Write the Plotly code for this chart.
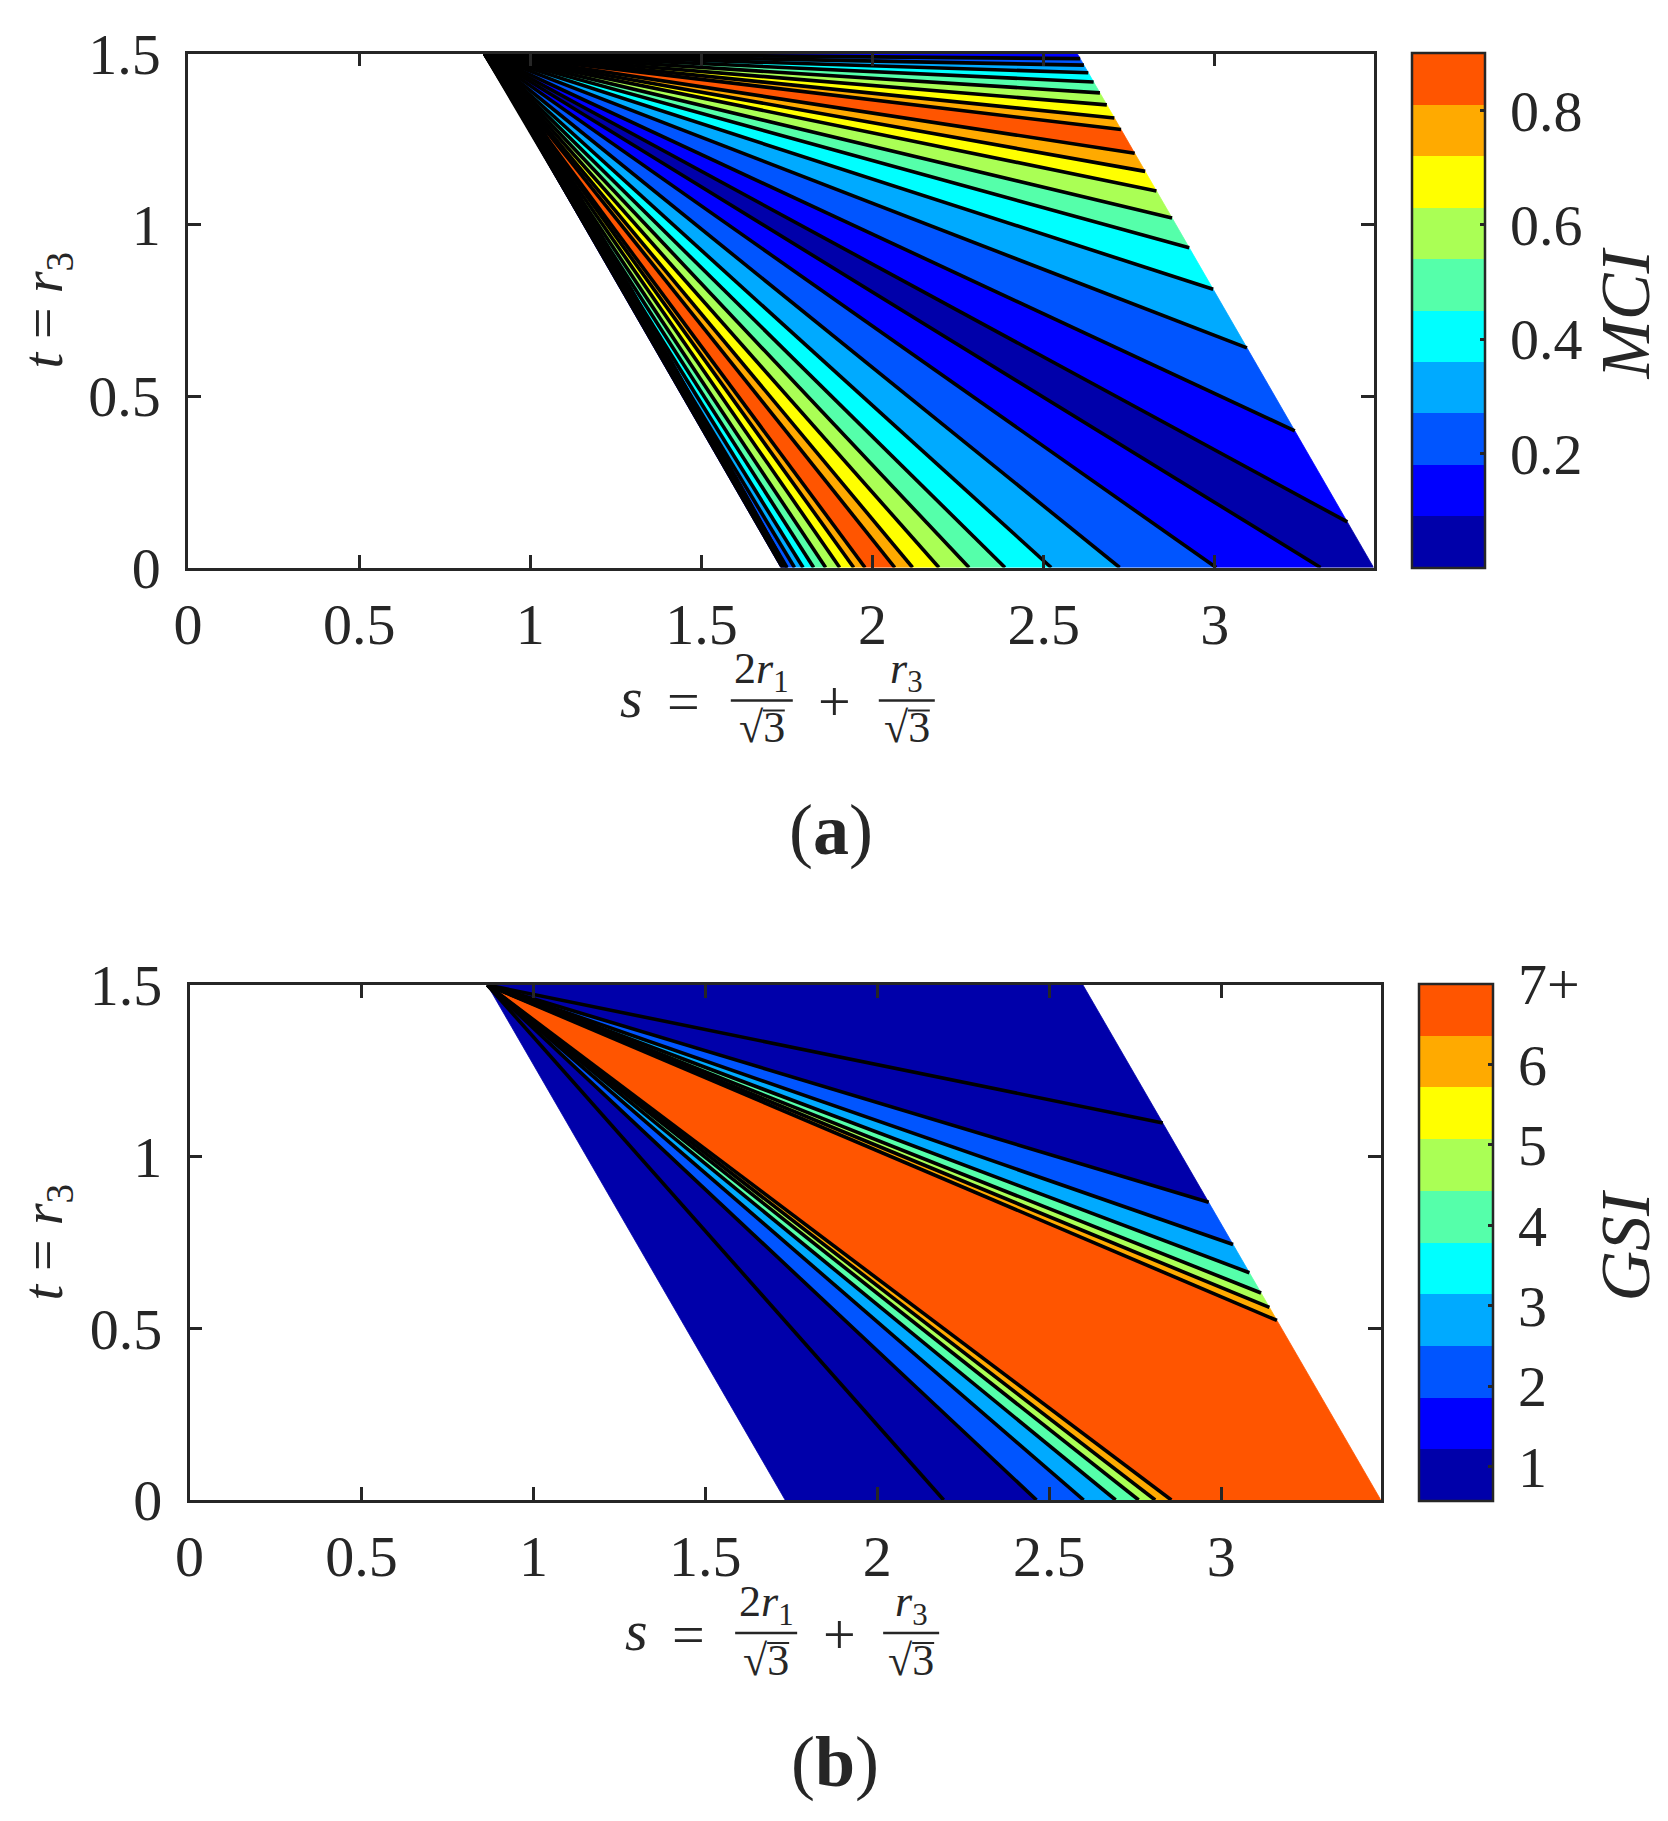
import math
import plotly.graph_objects as go

W, H = 1668, 1821
OFF = 8            # the page body adds an 8 px margin around the figure
FONT = "Liberation Serif, Times New Roman, Times, serif"
INK = "#262626"

SQ3 = math.sqrt(3.0)
S_MAX = 2 * SQ3          # right end of the s axis
T_MAX = 1.5              # top of the t axis

# ---------------------------------------------------------------- data
# 10-step jet palette used by both colour bars (bottom -> top)
jet_colors = ["#0000AA", "#0000FF", "#0055FF", "#00AAFF", "#00FFFF",
              "#55FFAA", "#AAFF55", "#FFFF00", "#FFAA00", "#FF5500"]

# Panel (a) MCI: contour lines are rays from the top-left corner of the domain.
# s where each line meets the bottom edge (t = 0), left to right
mci_bottom_s = [1.750, 1.772, 1.797, 1.828, 1.863, 1.904, 1.945, 1.978,
                2.065, 2.117, 2.194, 2.282, 2.387, 2.522, 2.722, 3.004, 3.309]
# t where each line meets the slanted right edge, bottom to top
mci_right_t = [0.133, 0.399, 0.641, 0.812, 0.933, 1.020, 1.099, 1.156,
               1.209, 1.278, 1.312, 1.350, 1.385, 1.417, 1.444, 1.466, 1.485]
# colour band (index into jet_colors) of each wedge, from left edge to top edge
mci_band_level = [1, 2, 3, 4, 5, 6, 7, 8, 9, 8, 7, 6, 5, 4, 3, 2, 1, 0,
                  1, 2, 3, 4, 5, 6, 7, 8, 9, 8, 7, 6, 5, 4, 3, 2, 1]
mci_cbar_range = [0.0, 0.9]
mci_cbar_ticks = [0.2, 0.4, 0.6, 0.8]
mci_cbar_labels = ["0.2", "0.4", "0.6", "0.8"]

# Panel (b) GSI
gsi_bottom_s = [2.193, 2.463, 2.600, 2.693, 2.760, 2.808, 2.855]
gsi_right_t = [0.523, 0.561, 0.603, 0.662, 0.744, 0.867, 1.098]
gsi_band_level = [0, 0, 2, 3, 5, 6, 8, 9, 8, 6, 5, 3, 2, 0, 0]
gsi_cbar_range = [0.571, 7.0]
gsi_cbar_ticks = [1, 2, 3, 4, 5, 6, 7]
gsi_cbar_labels = ["1", "2", "3", "4", "5", "6", "7+"]

x_ticks = [0, 0.5, 1, 1.5, 2, 2.5, 3]
x_tick_labels = ["0", "0.5", "1", "1.5", "2", "2.5", "3"]
y_ticks = [0, 0.5, 1, 1.5]
y_tick_labels = ["0", "0.5", "1", "1.5"]

# ---------------------------------------------------------------- layout boxes (page pixels)
PANELS = [
    dict(name="a", xa="x", ya="y", x0=188.0, x1=1373.6, y0=53.5, y1=567.5,
         cb_x0=1412, cb_x1=1485, cb_y0=53.0, cb_y1=568.0, cb_title="MCI"),
    dict(name="b", xa="x2", ya="y2", x0=189.5, x1=1380.8, y0=985.0, y1=1500.0,
         cb_x0=1419, cb_x1=1493, cb_y0=984.0, cb_y1=1501.0, cb_title="GSI"),
]

APEX = (SQ3 / 2, T_MAX)


def right_edge_s(t):
    return S_MAX - t / SQ3


def band_geometry(bottom_s, right_t):
    nodes = ([(SQ3, 0.0, "b")] + [(s, 0.0, "b") for s in bottom_s]
             + [(right_edge_s(t), t, "r") for t in right_t]
             + [(right_edge_s(T_MAX), T_MAX, "r")])
    polys = []
    for a, b in zip(nodes[:-1], nodes[1:]):
        pts = [APEX, (a[0], a[1])]
        if a[2] == "b" and b[2] == "r":
            pts.append((S_MAX, 0.0))
        pts += [(b[0], b[1]), APEX]
        polys.append(pts)
    return polys, nodes[1:-1]


def discrete_scale(colors):
    n = len(colors)
    cs = []
    for i, c in enumerate(colors):
        cs.append([i / n, c])
        cs.append([(i + 1) / n, c])
    return cs


def px(x):
    return (x - OFF) / W


def py(y):
    return 1 - (y - OFF) / H


fig = go.Figure()
annotations = []
shapes = []


def ann(text, x, y, size, angle=0):
    annotations.append(dict(
        text=text, x=px(x), y=py(y), xref="paper", yref="paper",
        xanchor="center", yanchor="middle", showarrow=False,
        textangle=angle, font=dict(family=FONT, size=size, color=INK)))


def hline(xa, xb, y, width=2.4):
    shapes.append(dict(type="line", xref="paper", yref="paper",
                       x0=px(xa), x1=px(xb), y0=py(y), y1=py(y),
                       line=dict(color=INK, width=width)))


datasets = [
    (mci_bottom_s, mci_right_t, mci_band_level, mci_cbar_range, mci_cbar_ticks, mci_cbar_labels),
    (gsi_bottom_s, gsi_right_t, gsi_band_level, gsi_cbar_range, gsi_cbar_ticks, gsi_cbar_labels),
]

for p, (bs, rt, lv, crange, cticks, clabels) in zip(PANELS, datasets):
    polys, line_nodes = band_geometry(bs, rt)
    for poly, level in zip(polys, lv):
        col = jet_colors[level]
        fig.add_trace(go.Scatter(
            x=[q[0] for q in poly], y=[q[1] for q in poly], mode="lines",
            fill="toself", fillcolor=col, line=dict(color=col, width=0.8),
            hoverinfo="skip", showlegend=False, xaxis=p["xa"], yaxis=p["ya"]))

    if p["name"] == "a":
        # crowded contour lines along the left edge render as a black band
        w0, w1 = 0.02, 0.05
        wedge = [APEX, (SQ3, 0.0), (SQ3 + w0, 0.0), (APEX[0] + w1, T_MAX), APEX]
        fig.add_trace(go.Scatter(
            x=[q[0] for q in wedge], y=[q[1] for q in wedge], mode="lines",
            fill="toself", fillcolor="black", line=dict(color="black", width=1),
            hoverinfo="skip", showlegend=False, xaxis=p["xa"], yaxis=p["ya"]))

    xs, ys = [], []
    for (lx, ly, _) in line_nodes:
        xs += [APEX[0], lx, None]
        ys += [APEX[1], ly, None]
    fig.add_trace(go.Scatter(
        x=xs, y=ys, mode="lines", line=dict(color="black", width=3.6),
        hoverinfo="skip", showlegend=False, xaxis=p["xa"], yaxis=p["ya"]))

    # colour bar carried by an empty marker trace
    fig.add_trace(go.Scatter(
        x=[None, None], y=[None, None], mode="markers",
        marker=dict(color=list(crange), cmin=crange[0], cmax=crange[1],
                    colorscale=discrete_scale(jet_colors), showscale=True,
                    colorbar=dict(
                        x=px(p["cb_x0"]), xanchor="left",
                        y=py((p["cb_y0"] + p["cb_y1"]) / 2), yanchor="middle",
                        len=p["cb_y1"] - p["cb_y0"], lenmode="pixels",
                        thickness=p["cb_x1"] - p["cb_x0"], thicknessmode="pixels",
                        xpad=0, ypad=0,
                        outlinewidth=2.5, outlinecolor=INK,
                        ticks="inside", ticklen=6, tickwidth=2.5, tickcolor=INK,
                        tickmode="array", tickvals=cticks,
                        ticktext=["\u2009" + t for t in clabels],
                        tickfont=dict(family=FONT, size=58, color=INK))),
        hoverinfo="skip", showlegend=False, xaxis=p["xa"], yaxis=p["ya"]))

    cx = (p["x0"] + p["x1"]) / 2
    yb = p["y1"]

    # x-axis title  s = 2r1/sqrt3 + r3/sqrt3
    ann("<i>s</i>", cx - 149, yb + 130, 58)
    ann("=", cx - 97, yb + 134, 58)
    ann("+", cx + 54, yb + 134, 58)
    for (fc, num, half) in [(cx - 19, "2<i>r</i><sub>1</sub>", 31), (cx + 126, "<i>r</i><sub>3</sub>", 28)]:
        ann(num, fc, yb + 104, 44)
        hline(fc - half, fc + half, yb + 133)
        ann("\u221a3", fc, yb + 160, 44)
        hline(fc + 1, fc + 23, yb + 143, 2.0)   # vinculum of the radical

    # y-axis title
    ann("<i>t</i> = <i>r</i><sub>3</sub>", 46, (p["y0"] + p["y1"]) / 2, 56, -90)
    # colour-bar title
    ann("<i>%s</i>" % p["cb_title"], 1625, (p["y0"] + p["y1"]) / 2 + 3, 70, -90)
    # panel caption
    ann("(<b>%s</b>)" % p["name"], cx + 50, yb + 262, 72)

axis_common = dict(
    showline=True, linewidth=2.5, linecolor=INK, mirror="ticks",
    ticks="inside", ticklen=13, tickwidth=2.5, tickcolor=INK,
    showgrid=False, zeroline=False, fixedrange=True,
    tickfont=dict(family=FONT, size=58, color=INK), layer="above traces")

layout_axes = {}
for i, p in enumerate(PANELS):
    sx = "" if i == 0 else str(i + 1)
    layout_axes["xaxis" + sx] = dict(
        axis_common, domain=[px(p["x0"]), px(p["x1"])], anchor="y" + sx,
        range=[0, S_MAX], tickmode="array", tickvals=x_ticks, ticktext=x_tick_labels,
        ticklabelstandoff=4)
    layout_axes["yaxis" + sx] = dict(
        axis_common, domain=[py(p["y1"]), py(p["y0"])], anchor="x" + sx,
        range=[0, T_MAX], tickmode="array", tickvals=y_ticks, ticktext=y_tick_labels,
        ticklabelstandoff=13)

fig.update_layout(
    width=W, height=H, margin=dict(l=0, r=0, t=0, b=0, autoexpand=False),
    paper_bgcolor="white", plot_bgcolor="white", showlegend=False,
    font=dict(family=FONT, color=INK),
    annotations=annotations, shapes=shapes, **layout_axes)

fig.write_html("out.html")
